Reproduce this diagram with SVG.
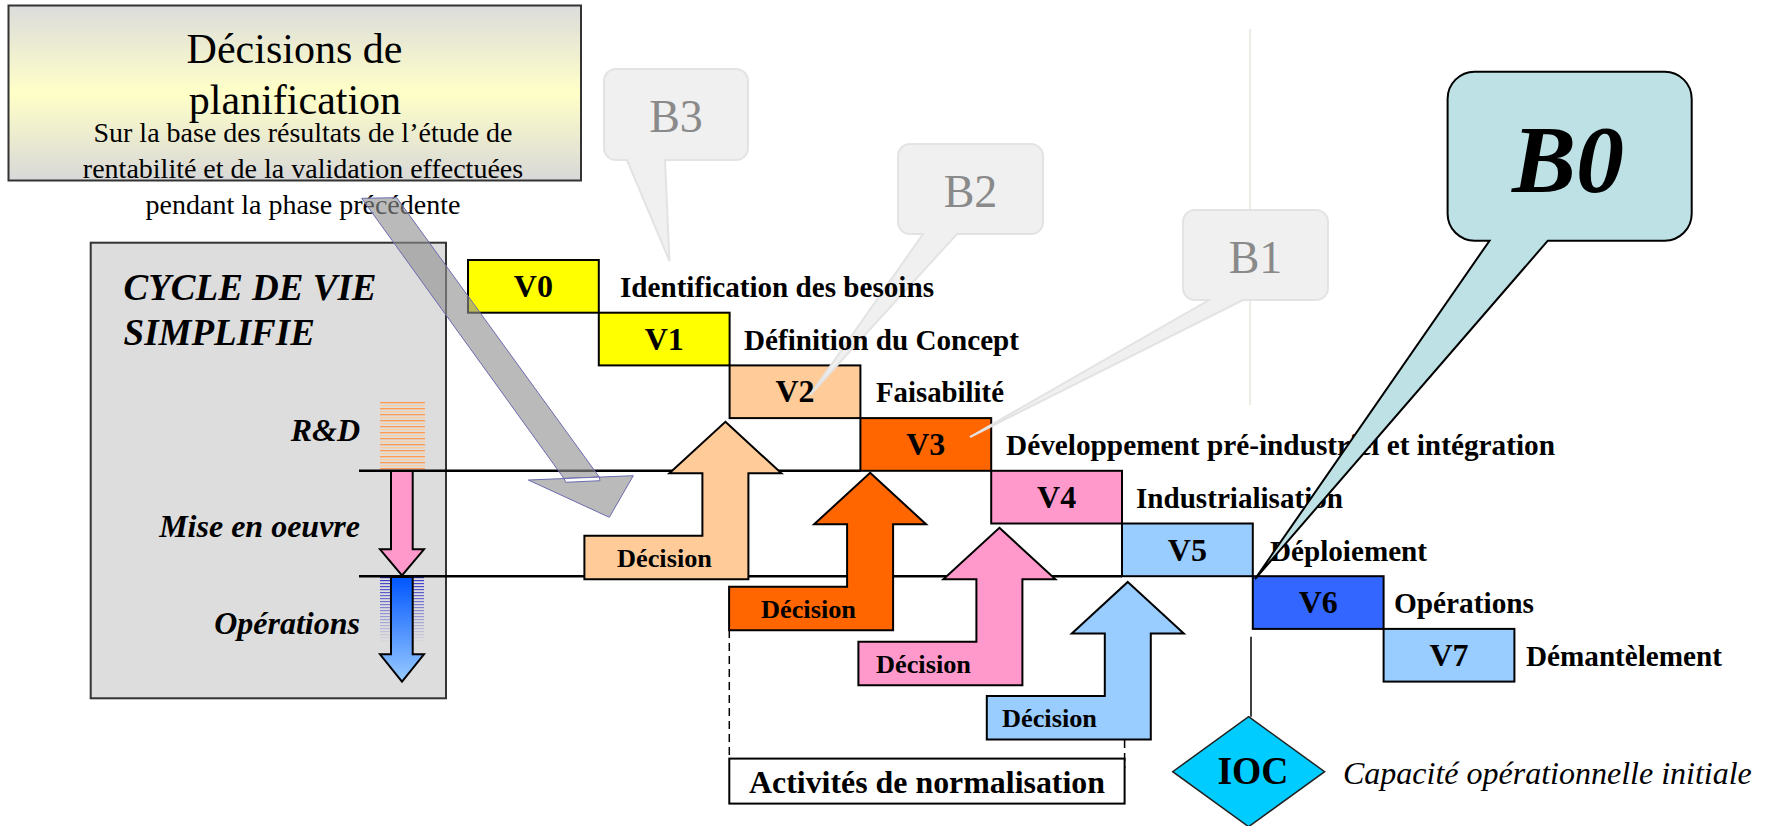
<svg xmlns="http://www.w3.org/2000/svg" xmlns:xlink="http://www.w3.org/1999/xlink" width="1771" height="826" viewBox="0 0 1771 826">
<style>
  text { font-family: "Liberation Serif", "Times New Roman", serif; }
  .b { font-weight: bold; }
  .bi { font-weight: bold; font-style: italic; }
  .it { font-style: italic; }
  .vbox { stroke: #000; stroke-width: 2; }
  .vlab { font-weight: bold; font-size: 32px; text-anchor: middle; }
  .lab { font-weight: bold; font-size: 29px; }
  .dec { font-weight: bold; font-size: 26px; }
  .darr { stroke: #000; stroke-width: 2; stroke-linejoin: miter; }
  .call { fill: #f0f0f0; stroke: #e3e3e3; stroke-width: 2; }
  .calltxt { font-size: 46px; fill: #8a8a8a; text-anchor: middle; }
  .conn { stroke: #000; fill: none; }
</style>
<defs>
  <linearGradient id="topGrad" x1="0" y1="0" x2="0" y2="1">
    <stop offset="0" stop-color="#dcdcdc"/>
    <stop offset="0.5" stop-color="#ffffc8"/>
    <stop offset="1" stop-color="#d8d8d8"/>
  </linearGradient>
  <linearGradient id="blueGrad" x1="0" y1="0" x2="0" y2="1">
    <stop offset="0" stop-color="#0055ff"/>
    <stop offset="1" stop-color="#99ccff"/>
  </linearGradient>
  <linearGradient id="fadeGrad" x1="0" y1="0" x2="0" y2="1">
    <stop offset="0" stop-color="#fff"/>
    <stop offset="1" stop-color="#000"/>
  </linearGradient>
  <pattern id="hatchO" patternUnits="userSpaceOnUse" x="0" y="402" width="50" height="6">
    <rect x="0" y="0" width="50" height="1.3" fill="#ff9a50"/>
    <rect x="0" y="3" width="50" height="1.3" fill="#ffcc99"/>
  </pattern>
  <pattern id="hatchB" patternUnits="userSpaceOnUse" x="0" y="577" width="50" height="3">
    <rect x="0" y="0" width="50" height="1.2" fill="#3333cc"/>
  </pattern>
  <mask id="fadeMask">
    <rect x="378" y="577" width="50" height="66" fill="url(#fadeGrad)"/>
  </mask>
  <path id="decArrow" d="M0,0 L56,51.5 L23,51.5 L23,157.5 L-141,157.5 L-141,114 L-23,114 L-23,51.5 L-56,51.5 Z"/>
</defs>

<!-- Planning decisions box -->
<g id="planning">
  <rect x="8.5" y="5.5" width="572.5" height="175" fill="url(#topGrad)" stroke="#333" stroke-width="2"/>
  <text x="294.5" y="63" font-size="42" text-anchor="middle">Décisions de</text>
  <text x="295" y="113.5" font-size="42" text-anchor="middle">planification</text>
  <text x="303" y="142" font-size="28" text-anchor="middle">Sur la base des résultats de l’étude de</text>
  <text x="303" y="178" font-size="28" text-anchor="middle">rentabilité et de la validation effectuées</text>
  <text x="303" y="214" font-size="28" text-anchor="middle">pendant la phase précédente</text>
</g>

<!-- light vertical guide -->
<line x1="1250" y1="29" x2="1250" y2="405" stroke="#e6e6dc" stroke-width="1.5"/>

<!-- Life cycle box -->
<g id="cycle">
  <rect x="90.7" y="242.7" width="355.3" height="455.6" fill="#dddddd" stroke="#333" stroke-width="2"/>
  <text x="123.6" y="300" font-size="37" class="bi">CYCLE DE VIE</text>
  <text x="123.6" y="345" font-size="37" class="bi">SIMPLIFIE</text>
  <text x="360" y="441" font-size="32" class="bi" text-anchor="end">R&amp;D</text>
  <text x="360" y="537" font-size="32" class="bi" text-anchor="end">Mise en oeuvre</text>
  <text x="360" y="634" font-size="32" class="bi" text-anchor="end">Opérations</text>
  <rect x="380" y="402" width="45" height="68" fill="url(#hatchO)"/>
  <rect x="380" y="577" width="44" height="65" fill="url(#hatchB)" mask="url(#fadeMask)"/>
  <path d="M391,471 H412.7 V549.3 H424 L402,575.5 L380,549.3 H391 Z" fill="#ff99cc" stroke="#000" stroke-width="2"/>
  <path d="M391,577 H412.7 V654.3 H424 L402,681.7 L380,654.3 H391 Z" fill="url(#blueGrad)" stroke="#000" stroke-width="2"/>
</g>

<!-- connectors -->
<g id="connectors">
  <line class="conn" x1="359" y1="470.8" x2="861" y2="470.8" stroke-width="2.6"/>
  <line class="conn" x1="359" y1="576.2" x2="1122" y2="576.2" stroke-width="2.6"/>
  <line class="conn" x1="729.3" y1="630" x2="729.3" y2="758.6" stroke-width="1.5" stroke-dasharray="8,5"/>
  <line class="conn" x1="1124.6" y1="740" x2="1124.6" y2="768" stroke-width="1.5" stroke-dasharray="8,5"/>
  <line class="conn" x1="1251" y1="636.7" x2="1251" y2="716.7" stroke="#333" stroke-width="1.5"/>
</g>

<!-- V boxes -->
<g id="V0"><rect class="vbox" x="468" y="260" width="130.8" height="52.7" fill="#ffff00"/><text class="vlab" x="533.4" y="297">V0</text></g>
<g id="V1"><rect class="vbox" x="598.8" y="312.7" width="130.8" height="52.7" fill="#ffff00"/><text class="vlab" x="664.2" y="349.7">V1</text></g>
<g id="V2"><rect class="vbox" x="729.6" y="365.4" width="130.8" height="52.7" fill="#ffcc99"/><text class="vlab" x="795" y="402.4">V2</text></g>
<g id="V3"><rect class="vbox" x="860.4" y="418.1" width="130.8" height="52.7" fill="#ff6600"/><text class="vlab" x="925.8" y="455.1">V3</text></g>
<g id="V4"><rect class="vbox" x="991.2" y="470.8" width="130.8" height="52.7" fill="#ff99cc"/><text class="vlab" x="1056.6" y="507.8">V4</text></g>
<g id="V5"><rect class="vbox" x="1122" y="523.5" width="130.8" height="52.7" fill="#99ccff"/><text class="vlab" x="1187.4" y="560.5">V5</text></g>
<g id="V6"><rect class="vbox" x="1252.8" y="576.2" width="130.8" height="52.7" fill="#3366ff"/><text class="vlab" x="1318.2" y="613.2">V6</text></g>
<g id="V7"><rect class="vbox" x="1383.6" y="628.9" width="130.8" height="52.7" fill="#99ccff"/><text class="vlab" x="1449" y="665.9">V7</text></g>

<!-- decision arrows -->
<g id="dec-peach"><use xlink:href="#decArrow" href="#decArrow" x="725.4" y="421.8" class="darr" fill="#ffcc99"/><text class="dec" x="617" y="567" textLength="95" lengthAdjust="spacingAndGlyphs">Décision</text></g>
<g id="dec-orange"><use xlink:href="#decArrow" href="#decArrow" x="870.1" y="472.8" class="darr" fill="#ff6600"/><text class="dec" x="761" y="617.5" textLength="95" lengthAdjust="spacingAndGlyphs">Décision</text></g>
<g id="dec-pink"><use xlink:href="#decArrow" href="#decArrow" x="999.4" y="527.8" class="darr" fill="#ff99cc"/><text class="dec" x="876" y="672.5" textLength="95" lengthAdjust="spacingAndGlyphs">Décision</text></g>
<g id="dec-blue"><use xlink:href="#decArrow" href="#decArrow" x="1127.8" y="581.9" class="darr" fill="#99ccff"/><text class="dec" x="1002" y="726.5" textLength="95" lengthAdjust="spacingAndGlyphs">Décision</text></g>

<!-- normalisation box -->
<g id="normalisation">
  <rect x="729.3" y="758.6" width="395.3" height="45" fill="#fff" stroke="#000" stroke-width="2"/>
  <text x="749" y="793" font-size="31" class="b" textLength="356" lengthAdjust="spacingAndGlyphs">Activités de normalisation</text>
</g>

<!-- gray planning arrow -->
<g id="planArrow" fill="#8f8f8f" fill-opacity="0.62" stroke="#6b6bb0" stroke-width="1">
  <polygon points="361.7,198.3 396.7,197.7 599.3,477.1 564,478.5"/>
  <polygon points="528.3,480 633.3,475.7 609.3,517.3"/>
  <polygon points="564,478.5 599.3,477.1 600,480.7 565.7,482.3" fill="#fff" fill-opacity="1"/>
</g>

<!-- light callouts -->
<g id="B3"><path class="call" d="M616,69 H736 A12,12 0 0 1 748,81 V148 A12,12 0 0 1 736,160 H665 L669.5,261 L627,160 H616 A12,12 0 0 1 604,148 V81 A12,12 0 0 1 616,69 Z"/><text class="calltxt" x="676" y="131.7">B3</text></g>
<g id="B2"><path class="call" d="M910,144 H1031 A12,12 0 0 1 1043,156 V222 A12,12 0 0 1 1031,234 H957 L810,395 L923,234 H910 A12,12 0 0 1 898,222 V156 A12,12 0 0 1 910,144 Z"/><text class="calltxt" x="970.5" y="206.7">B2</text></g>
<g id="B1"><path class="call" d="M1195,210 H1316 A12,12 0 0 1 1328,222 V288 A12,12 0 0 1 1316,300 H1243 L970,437 L1209,300 H1195 A12,12 0 0 1 1183,288 V222 A12,12 0 0 1 1195,210 Z"/><text class="calltxt" x="1255.5" y="272.7">B1</text></g>

<!-- phase labels -->
<g id="labels">
  <text class="lab" x="620" y="297" textLength="314" lengthAdjust="spacingAndGlyphs">Identification des besoins</text>
  <text class="lab" x="744" y="349.7" textLength="275" lengthAdjust="spacingAndGlyphs">Définition du Concept</text>
  <text class="lab" x="876" y="402.4" textLength="128" lengthAdjust="spacingAndGlyphs">Faisabilité</text>
  <text class="lab" x="1006" y="455.1" textLength="549" lengthAdjust="spacingAndGlyphs">Développement pré-industriel et intégration</text>
  <text class="lab" x="1136" y="507.8" textLength="207" lengthAdjust="spacingAndGlyphs">Industrialisation</text>
  <text class="lab" x="1270" y="560.5" textLength="157" lengthAdjust="spacingAndGlyphs">Déploiement</text>
  <text class="lab" x="1394" y="613.2" textLength="140" lengthAdjust="spacingAndGlyphs">Opérations</text>
  <text class="lab" x="1526" y="665.9" textLength="196" lengthAdjust="spacingAndGlyphs">Démantèlement</text>
</g>

<!-- B0 callout -->
<g id="B0">
  <path d="M1474.6,71.7 H1664.7 A27,27 0 0 1 1691.7,98.7 V213.7 A27,27 0 0 1 1664.7,240.7 H1547.8 L1255,579 L1489.5,240.7 H1474.6 A27,27 0 0 1 1447.6,213.7 V98.7 A27,27 0 0 1 1474.6,71.7 Z" fill="#bde1e5" stroke="#000" stroke-width="2"/>
  <text x="1568" y="191.7" font-size="96" class="bi" text-anchor="middle">B0</text>
</g>

<!-- IOC -->
<g id="IOC">
  <polygon points="1248.6,716.7 1324.6,771.7 1248.6,826.7 1172.7,771.7" fill="#00ccff" stroke="#222" stroke-width="1.5"/>
  <text x="1253" y="784" font-size="39" class="b" text-anchor="middle" textLength="71" lengthAdjust="spacingAndGlyphs">IOC</text>
  <text x="1343" y="784" font-size="32" class="it">Capacité opérationnelle initiale</text>
</g>
</svg>
